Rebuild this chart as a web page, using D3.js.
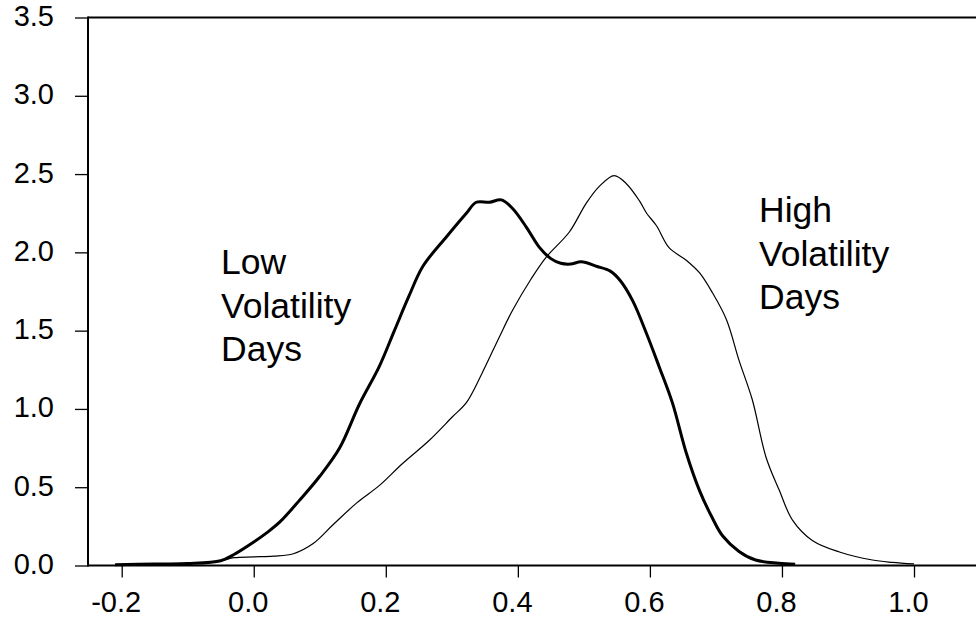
<!DOCTYPE html>
<html>
<head>
<meta charset="utf-8">
<script src="https://cdn.jsdelivr.net/npm/d3@7"></script>
<style>
  html, body { margin: 0; padding: 0; background: #fff; }
  svg { display: block; }
  text { font-family: "Liberation Sans", Arial, sans-serif; fill: #000; }
</style>
</head>
<body>
<svg id="chart" width="976" height="621"></svg>
<script>
// ---- Data ----
const xTicks = [-0.2, 0.0, 0.2, 0.4, 0.6, 0.8, 1.0];
const yTicks = [0.0, 0.5, 1.0, 1.5, 2.0, 2.5, 3.0, 3.5];

const lowX = [-0.21, -0.15, -0.10, -0.05, -0.03, 0.0, 0.02, 0.04, 0.07, 0.10, 0.13, 0.16, 0.19, 0.213, 0.235, 0.256, 0.292, 0.322, 0.337, 0.357, 0.375, 0.392, 0.413, 0.433, 0.45, 0.465, 0.48, 0.496, 0.52, 0.54, 0.555, 0.574, 0.595, 0.614, 0.634, 0.655, 0.675, 0.695, 0.71, 0.735, 0.76, 0.795, 0.82];
const lowY = [0.005, 0.01, 0.012, 0.03, 0.07, 0.15, 0.21, 0.28, 0.42, 0.57, 0.75, 1.03, 1.27, 1.50, 1.72, 1.91, 2.10, 2.25, 2.32, 2.32, 2.335, 2.28, 2.16, 2.03, 1.96, 1.93, 1.925, 1.94, 1.91, 1.88, 1.82, 1.69, 1.48, 1.27, 1.04, 0.72, 0.48, 0.30, 0.19, 0.09, 0.035, 0.015, 0.008];

const highX = [-0.21, -0.15, -0.10, -0.05, -0.03, 0.0, 0.03, 0.06, 0.09, 0.12, 0.156, 0.19, 0.225, 0.266, 0.301, 0.322, 0.346, 0.372, 0.392, 0.42, 0.443, 0.478, 0.503, 0.523, 0.546, 0.564, 0.584, 0.595, 0.61, 0.629, 0.655, 0.675, 0.695, 0.716, 0.735, 0.755, 0.776, 0.796, 0.816, 0.846, 0.887, 0.937, 0.967, 1.0];
const highY = [0.003, 0.008, 0.012, 0.03, 0.05, 0.055, 0.06, 0.075, 0.14, 0.26, 0.40, 0.51, 0.65, 0.80, 0.95, 1.04, 1.23, 1.46, 1.63, 1.83, 1.97, 2.13, 2.31, 2.42, 2.49, 2.44, 2.33, 2.25, 2.17, 2.03, 1.95, 1.87, 1.74, 1.57, 1.31, 1.06, 0.69, 0.48, 0.29, 0.16, 0.086, 0.035, 0.02, 0.01];

const lowLabel = ["Low", "Volatility", "Days"];
const highLabel = ["High", "Volatility", "Days"];

// ---- Chart ----
const svg = d3.select("#chart");
const plotLeft = 88, plotRight = 976, plotTop = 17.5, plotBottom = 565.5;

const x = d3.scaleLinear().domain([-0.2, 1.0]).range([121.7, 914]);
const y = d3.scaleLinear().domain([0, 3.5]).range([plotBottom, plotTop]);

// frame lines
svg.append("line").attr("x1", plotLeft).attr("x2", plotRight).attr("y1", plotTop).attr("y2", plotTop)
  .attr("stroke", "#000").attr("stroke-width", 2);
svg.append("line").attr("x1", plotLeft).attr("x2", plotRight).attr("y1", plotBottom).attr("y2", plotBottom)
  .attr("stroke", "#000").attr("stroke-width", 2);
svg.append("line").attr("x1", plotLeft).attr("x2", plotLeft).attr("y1", plotTop - 1).attr("y2", plotBottom + 1)
  .attr("stroke", "#000").attr("stroke-width", 2);

// x axis
const xAxis = d3.axisBottom(x).tickValues(xTicks).tickSize(12).tickSizeOuter(0)
  .tickFormat(d3.format(".1f"));
const gx = svg.append("g").attr("transform", `translate(0,${plotBottom})`).call(xAxis);
gx.select(".domain").remove();
gx.selectAll(".tick line").attr("stroke", "#000").attr("stroke-width", 1.3);
gx.selectAll(".tick text")
  .attr("font-family", "'Liberation Sans', Arial, sans-serif")
  .attr("font-size", 29).attr("fill", "#000")
  .attr("x", -6).attr("y", 46).attr("dy", 0)
  .text(d => d3.format(".1f")(d).replace("−", "-"));

// y axis
const yAxis = d3.axisLeft(y).tickValues(yTicks).tickSize(13).tickSizeOuter(0)
  .tickFormat(d3.format(".1f"));
const gy = svg.append("g").attr("transform", `translate(${plotLeft},0)`).call(yAxis);
gy.select(".domain").remove();
gy.selectAll(".tick line").attr("stroke", "#000").attr("stroke-width", 1.3);
gy.selectAll(".tick text")
  .attr("font-family", "'Liberation Sans', Arial, sans-serif")
  .attr("font-size", 29).attr("fill", "#000")
  .attr("x", -34).attr("dy", 0).attr("y", 8);

// curves
const line = d3.line().x(d => x(d[0])).y(d => y(d[1])).curve(d3.curveCatmullRom.alpha(0.5));
const lowData = lowX.map((v, i) => [v, lowY[i]]);
const highData = highX.map((v, i) => [v, highY[i]]);

svg.append("path").datum(highData).attr("d", line)
  .attr("fill", "none").attr("stroke", "#000").attr("stroke-width", 1.2);
svg.append("path").datum(lowData).attr("d", line)
  .attr("fill", "none").attr("stroke", "#000").attr("stroke-width", 3)
  .attr("stroke-linejoin", "round");

// annotations
function label(lines, lx, ly) {
  const t = svg.append("text").attr("font-size", 35.5)
    .attr("font-family", "'Liberation Sans', Arial, sans-serif");
  lines.forEach((s, i) => {
    t.append("tspan").attr("x", lx).attr("y", ly + i * 43.5).text(s);
  });
}
label(lowLabel, 221, 274);
label(highLabel, 759, 222);
</script>
</body>
</html>
